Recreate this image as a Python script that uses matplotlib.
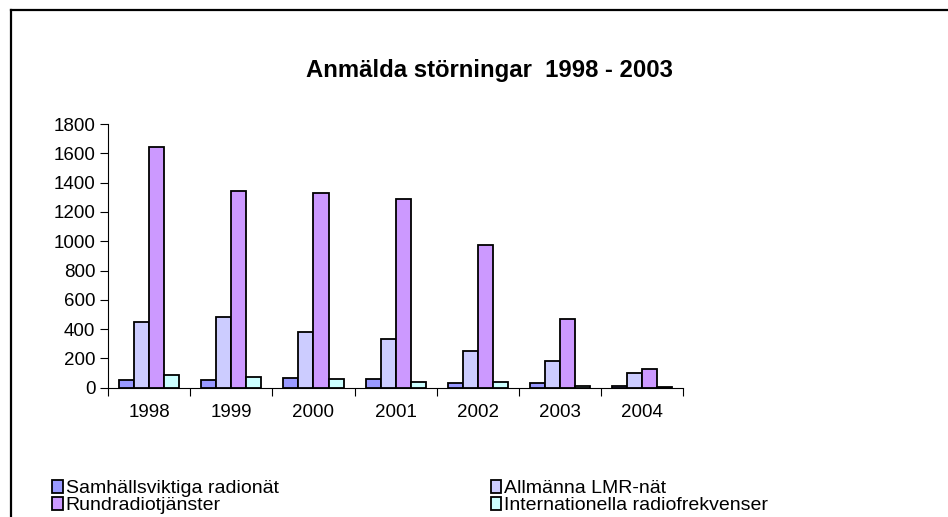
import matplotlib
matplotlib.use("Agg")
import matplotlib.pyplot as plt
import numpy as np
from matplotlib.lines import Line2D

plt.rcParams["font.family"] = ["Liberation Sans", "DejaVu Sans"]

# ── data ────────────────────────────────────────────────────────────────
years = ["1998", "1999", "2000", "2001", "2002", "2003", "2004"]
samhallsviktiga = [52, 55, 68, 61, 32, 34, 12]
allmanna_lmr = [450, 480, 378, 334, 248, 184, 102]
rundradio = [1645, 1345, 1327, 1288, 972, 467, 126]
internationella = [85, 71, 60, 41, 37, 10, 8]

series = [
    ("Samhällsviktiga radionät", samhallsviktiga, "#9999FF"),
    ("Allmänna LMR-nät", allmanna_lmr, "#CCCCFF"),
    ("Rundradiotjänster", rundradio, "#CC99FF"),
    ("Internationella radiofrekvenser", internationella, "#CCFFFF"),
]

fig = plt.figure(figsize=(9.48, 5.17), dpi=100)
ax = fig.add_axes([0.1139, 0.250, 0.607, 0.510])

x = np.arange(len(years))
w = 0.183
for i, (name, vals, col) in enumerate(series):
    ax.bar(x + (i - 1.5) * w, vals, w, color=col, edgecolor="black",
           linewidth=1.3, label=name, zorder=3)

ax.set_xlim(-0.5, len(years) - 0.5)
ax.set_ylim(0, 1800)
ax.set_yticks(range(0, 1801, 200))
ax.set_xticks(x)
ax.set_xticklabels(years)
ax.set_xticks(np.arange(-0.5, len(years)), minor=True)
ax.tick_params(axis="x", which="major", length=0, pad=12, labelsize=13.5)
ax.tick_params(axis="x", which="minor", length=6, width=0.8, direction="out")
ax.tick_params(axis="y", length=6, width=0.8, pad=3, labelsize=13.5)
ax.spines[["top", "right"]].set_visible(False)
ax.spines[["left", "bottom"]].set_linewidth(0.8)

fig.text(0.516, 0.863, "Anmälda störningar  1998 - 2003", ha="center",
         va="center", fontsize=17.2, fontweight="bold")

# legend in two columns, row-major order
handles, labels = ax.get_legend_handles_labels()
order = [0, 2, 1, 3]
fig.legend([handles[i] for i in order], [labels[i] for i in order],
           loc="upper left", bbox_to_anchor=(0.055, 0.071), ncol=2,
           frameon=False, fontsize=14, handlelength=0.55, handleheight=0.6,
           handletextpad=0.15, columnspacing=10.9, labelspacing=0.0,
           borderpad=0.0, borderaxespad=0.0)

# outer frame (top and left edges visible)
fig.add_artist(Line2D([11 / 948, 1.0], [1 - 10 / 517, 1 - 10 / 517],
                      transform=fig.transFigure, color="black", linewidth=1.6))
fig.add_artist(Line2D([11 / 948, 11 / 948], [0.0, 1 - 10 / 517],
                      transform=fig.transFigure, color="black", linewidth=1.6))

fig.savefig("out.png", dpi=100, facecolor="white")
